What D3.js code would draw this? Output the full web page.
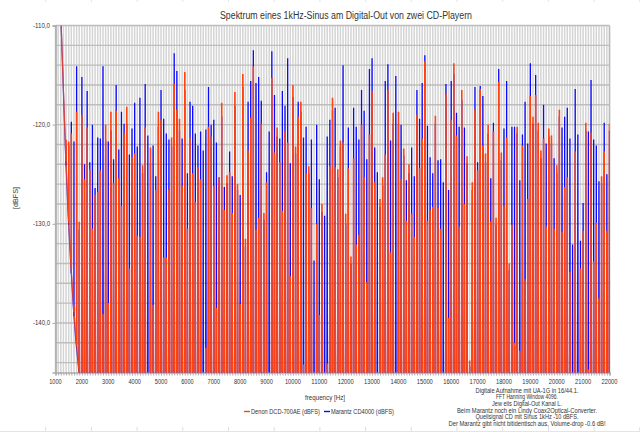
<!DOCTYPE html>
<html><head><meta charset="utf-8">
<script src="https://cdn.jsdelivr.net/npm/d3@7"></script>
<style>html,body{margin:0;padding:0;background:#fff}svg{display:block}text{font-family:"Liberation Sans",sans-serif;fill:#333}</style>
</head><body><svg id="c" width="640" height="432"></svg>
<script>
const title = "Spektrum eines 1kHz-Sinus am Digital-Out von zwei CD-Playern";
const xTitle = "frequency [Hz]";
const yTitle = "[dBFS]";
const seriesNames = ["Denon DCD-700AE (dBFS)", "Marantz CD4000 (dBFS)"];
const seriesColors = ["#ff420e", "#0a0aff"];
const notes = ["Digitale Aufnahme mit UA-1G in 16/44.1.","FFT Hanning Window 4096.","Jew eils Digital-Out Kanal L.","Beim Marantz noch ein Lindy Coax2Optical-Converter.","Quellsignal CD mit Sinus 1kHz -10 dBFS.","Der Marantz gibt nicht bitidentisch aus, Volume-drop -0.6 dB!"];
const noteWidths = [103,62,70,140,103,157];
const xTickLabels = [1000,2000,3000,4000,5000,6000,7000,8000,9000,10000,11000,12000,13000,14000,15000,16000,17000,18000,19000,20000,21000,22000];
const yTickLabels = [-110,-120,-130,-140];
const tailFreq = [1215,1379,1480,1569,1670,1758,1885];
const tailDenon = [-110,-122.4,-128.7,-133.2,-137.8,-141,-144.6];
const tailMarantz = [-110,-122.8,-129.1,-133.6,-138.2,-141.4,-144.9];
const spikeStartHz = 1400;
const spikeStepHz = 100;
const marantz = [-122.1,-122.1,-119.7,-121.7,-114.1,-130.6,-115.2,-124.0,-116.6,-123.8,-120.0,-126.4,-121.3,-121.4,-114.1,-121.6,-121.7,-120.6,-123.5,-116.0,-122.5,-118.7,-119.9,-119.9,-123.0,-120.4,-117.8,-122.2,-117.3,-124.9,-115.9,-121.1,
-123.9,-122.1,-125.2,-120.2,-116.5,-119.4,-120.9,-121.5,-122.2,-112.8,-114.6,-120.6,-121.4,-116.5,-124.9,-117.7,-118.1,-120.9,-122.1,-120.7,-122.6,-120.5,-116.2,-120.0,-119.5,-121.8,-125.3,-119.2,-126.3,-125.9,-122.7,-125.2,-118.1,-126.6,-127.1,-116.2,-132.3,-117.7,-115.6,
-112.5,-115.8,-115.2,-117.6,-129.6,-124.8,-120.7,-112.6,-117.0,-121.2,-121.4,-116.6,-118.1,-113.3,-123.9,-117.2,-122.9,-117.7,-118.7,-121.3,-120.2,-124.9,-121.5,-133.7,-120.0,-125.5,-128.8,-129.2,-121.2,-119.5,-118.6,-118.3,-125.3,-122.2,-114.0,-130.0,-120.3,
-134.0,-118.3,-120.2,-121.5,-116.5,-118.6,-123.5,-114.4,-113.3,-122.3,-124.8,-128.3,-126.1,-115.6,-113.9,-121.6,-119.9,-115.1,-119.9,-120.0,-123.1,-125.6,-124.9,-122.3,-125.2,-116.5,-119.4,-115.8,-113.0,-120.1,-123.3,-124.9,-119.9,-123.6,-123.5,-125.8,-115.9,-126.6,-115.6,
-114.9,-118.8,-120.2,-117.5,-120.3,-123.9,-144.4,-126.6,-116.2,-123.8,-116.1,-117.1,-123.8,-120.9,-125.4,-119.8,-130.1,-114.4,-123.6,-120.4,-115.6,-134.7,-120.2,-120.2,-120.9,-125.6,-121.0,-117.7,-121.9,-113.8,
-119.9,-115.0,-120.6,-123.4,-118.0,-121.9,-121.2,-121.9,-123.4,-124.9,-119.2,-120.3,-119.2,-118.3,-121.4,-132.1,-116.4,-121.0,-131.7,-127.9,-120.6,-120.7,-115.5,-121.5,-122.1,-125.7,-125.9,-119.8,-125.0,-120.6];
const denon = [-121.5,-121.7,-120.9,-138.2,-118.7,-129.8,-119.0,-125.5,-120.3,-124.5,-130.5,-127.1,-126.8,-124.6,-139.1,-120.0,-138.0,-118.7,-125.9,-118.6,-125.4,-128.2,-120.9,-118.2,-134.5,-123.3,-122.9,-131.2,-131.3,-124.1,-120.3,-145.4,
-122.3,-138.2,-126.6,-118.7,-119.5,-133.4,-133.4,-126.6,-121.3,-115.9,-118.5,-119.4,-126.2,-114.7,-130.5,-121.3,-124.9,-127.8,-124.3,-125.5,-145.4,-142.5,-120.2,-121.2,-126.2,-138.5,-125.4,-117.8,-128.6,-125.1,-124.8,-128.9,-116.7,-126.0,-138.1,-114.9,-131.5,-122.6,-119.3,
-114.1,-130.6,-129.4,-119.9,-128.9,-125.8,-145.4,-115.3,-122.8,-120.3,-123.8,-128.7,-120.7,-121.8,-135.3,-116.0,-122.2,-119.2,-117.7,-144.2,-124.9,-124.2,-128.4,-145.4,-130.0,-139.2,-128.0,-145.4,-144.1,-124.2,-117.3,-124.3,-124.5,-121.6,-121.8,-129.0,-124.4,
-133.3,-123.4,-132.1,-131.1,-120.0,-125.3,-135.9,-121.0,-116.6,-125.8,-145.4,-127.5,-125.3,-123.0,-116.5,-132.9,-118.8,-145.4,-118.7,-125.5,-122.4,-129.7,-124.0,-129.0,-131.3,-119.0,-124.4,-121.4,-113.6,-129.7,-128.6,-128.3,-119.1,-128.4,-130.5,-145.4,-116.9,-139.5,-119.5,
-113.8,-121.1,-130.3,-116.5,-128.0,-123.2,-143.8,-125.8,-118.5,-124.6,-116.4,-122.1,-122.9,-120.0,-129.8,-120.7,-129.4,-115.7,-122.8,-128.2,-121.3,-134.0,-130.1,-142.0,-120.2,-142.8,-122.1,-135.6,-127.5,-117.1,
-119.2,-117.0,-119.8,-122.6,-121.4,-130.3,-120.4,-121.1,-130.5,-124.1,-118.5,-130.8,-126.3,-125.3,-134.9,-145.4,-122.7,-145.4,-134.5,-130.7,-119.8,-144.7,-120.8,-133.8,-129.9,-137.5,-125.2,-122.7,-130.7,-119.9];

const svg = d3.select("#c");
const x = d3.scaleLinear().domain([1000,22000]).range([55.5,609.5]);
const y = d3.scaleLinear().domain([-110,-145]).range([25.5,372.5]);

// edge rulers of the page
const ruler = d3.range(45.7,640,45.7);
svg.append("g").selectAll("line").data(ruler).join("line").attr("x1",d=>d).attr("x2",d=>d).attr("y1",427).attr("y2",432).attr("stroke","#ddd");
svg.append("g").selectAll("line").data(ruler).join("line").attr("x1",d=>d).attr("x2",d=>d).attr("y1",0).attr("y2",2).attr("stroke","#e4e4e4");
svg.append("line").attr("x1",0).attr("x2",640).attr("y1",431.5).attr("y2",431.5).attr("stroke","#e4e4e4");

// grid
const minorX = d3.range(1000,22001,100), minorY = d3.range(-110,-145.01,-2);
const grid = svg.append("g");
grid.selectAll(".v").data(minorX).join("line").attr("x1",d=>x(d)).attr("x2",d=>x(d)).attr("y1",y(-110)).attr("y2",y(-145)).attr("stroke","#d4d4d4").attr("stroke-width",1.5);
grid.selectAll(".h").data(minorY).join("line").attr("x1",x(1000)).attr("x2",x(22000)).attr("y1",d=>y(d)).attr("y2",d=>y(d)).attr("stroke","#bdbdbd").attr("stroke-width",1.4);

// axes
const ax = svg.append("g").attr("transform",`translate(0,${y(-145)})`).call(d3.axisBottom(x).tickValues(minorX).tickSize(3).tickFormat(""));
ax.selectAll("path,line").attr("stroke","#aaa");
ax.select("path").attr("stroke-width",1.4);
const ay = svg.append("g").attr("transform",`translate(${x(1000)},0)`).call(d3.axisLeft(y).tickValues(yTickLabels).tickSize(3).tickFormat(""));
ay.selectAll("path,line").attr("stroke","#aaa");
ay.select("path").attr("stroke-width",1.6);
svg.append("line").attr("x1",x(22000)).attr("x2",x(22000)).attr("y1",y(-110)).attr("y2",y(-145)).attr("stroke","#bbb").attr("stroke-width",1.4);
svg.append("g").selectAll("text").data(xTickLabels).join("text").attr("x",d=>x(d)).attr("y",383.5).attr("text-anchor","middle").attr("font-size",7.2).attr("textLength",d=>d<10000?12.5:16).attr("lengthAdjust","spacingAndGlyphs").text(d=>d);
svg.append("g").selectAll("text").data(yTickLabels).join("text").attr("x",50).attr("y",d=>y(d)+2.5).attr("text-anchor","end").attr("font-size",7.2).attr("textLength",17).attr("lengthAdjust","spacingAndGlyphs").text(d=>d.toFixed(1).replace(".",","));

// series: a soft triangle under each spike and a narrow spike on top.
// Spikes on the skirt of the 1 kHz tone stand on the skirt instead of the plot floor.
svg.append("clipPath").attr("id","plot").append("rect").attr("x",x(1000)).attr("y",y(-110)).attr("width",x(22000)-x(1000)).attr("height",y(-145)-y(-110));
const line = d3.line().x(d=>x(d[0])).y(d=>y(d[1]));
const floorDb = -152;
const skirtEnd = tailFreq[tailFreq.length-1];
function spikes(vals, tail, halfBase){
  const skirt = d3.scaleLinear().domain(tailFreq).range(tail);
  return vals.map((v,i)=>{
    const f = spikeStartHz + i*spikeStepHz;
    if (f < skirtEnd) { const b = Math.min(v, skirt(f)); return [[f,b],[f,v]]; }
    return [[f-halfBase,floorDb],[f,v],[f+halfBase,floorDb]];
  });
}
const plot = svg.append("g").attr("clip-path","url(#plot)");
[[marantz,tailMarantz,1],[denon,tailDenon,0]].forEach(([vals,tail,c])=>{
  plot.append("path").attr("d",spikes(vals,tail,55).filter(g=>g.length==3).map(g=>line(g)+"Z").join("")).attr("fill",seriesColors[c]).attr("fill-opacity",c?0.3:0.5).attr("stroke","none");
  plot.append("path").attr("d",line(tailFreq.map((f,i)=>[f,tail[i]]))).attr("fill","none").attr("stroke",seriesColors[c]).attr("stroke-width",1.2).attr("stroke-opacity",0.8);
  plot.append("path").attr("d",spikes(vals,tail,5).map(g=>line(g)).join("")).attr("fill","none").attr("stroke",seriesColors[c]).attr("stroke-width",c?1.3:1.6).attr("stroke-linejoin","bevel");
});

// text
svg.append("text").attr("x",346).attr("y",19).attr("text-anchor","middle").attr("font-size",10).attr("textLength",252).attr("lengthAdjust","spacingAndGlyphs").text(title);
svg.append("text").attr("x",325).attr("y",400).attr("text-anchor","middle").attr("font-size",7.6).attr("textLength",40).attr("lengthAdjust","spacingAndGlyphs").text(xTitle);
svg.append("text").attr("transform","translate(18,198) rotate(-90)").attr("text-anchor","middle").attr("font-size",7.2).text(yTitle);
const lg = svg.append("g");
lg.append("line").attr("x1",244).attr("x2",250).attr("y1",411.5).attr("y2",411.5).attr("stroke",seriesColors[0]).attr("stroke-width",1.4);
lg.append("text").attr("x",251).attr("y",414).attr("font-size",6.6).attr("textLength",69).attr("lengthAdjust","spacingAndGlyphs").text(seriesNames[0]);
lg.append("line").attr("x1",324).attr("x2",330).attr("y1",411.5).attr("y2",411.5).attr("stroke",seriesColors[1]).attr("stroke-width",1.4);
lg.append("text").attr("x",331).attr("y",414).attr("font-size",6.6).attr("textLength",63).attr("lengthAdjust","spacingAndGlyphs").text(seriesNames[1]);
svg.append("g").selectAll("text").data(notes).join("text").attr("x",527).attr("y",(d,i)=>392.5+i*6.7).attr("text-anchor","middle").attr("font-size",6.4).attr("textLength",(d,i)=>noteWidths[i]).attr("lengthAdjust","spacingAndGlyphs").text(d=>d);
</script></body></html>
